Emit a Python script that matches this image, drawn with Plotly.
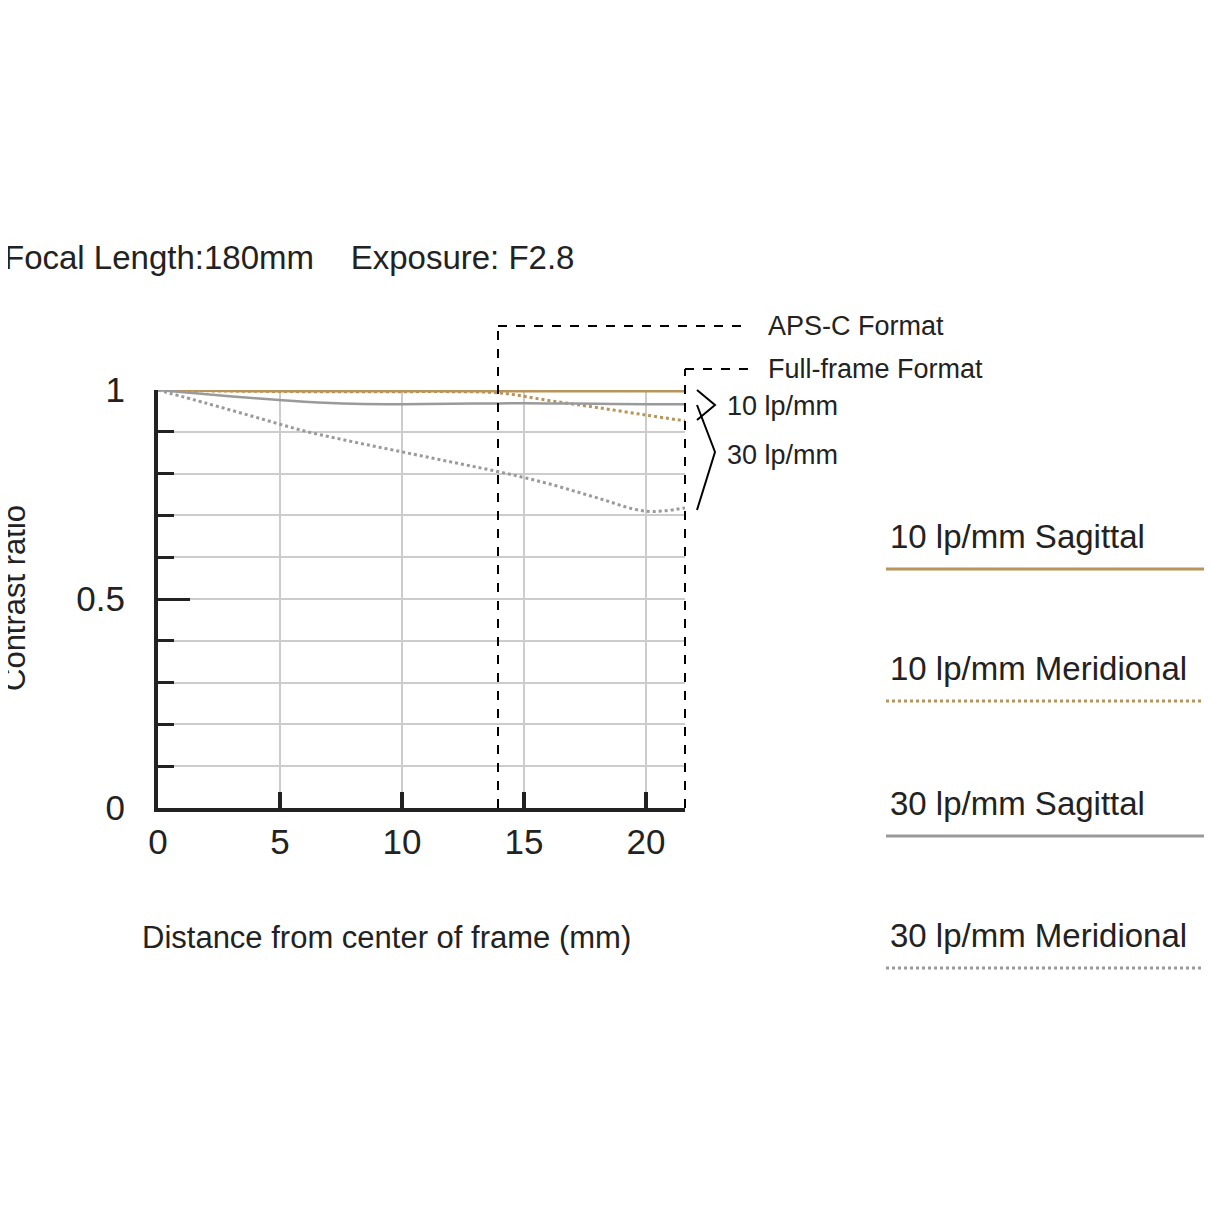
import plotly.graph_objects as go

# MTF data (distance mm -> contrast)
x_pts = [0, 2, 4, 6, 8, 10, 12, 14, 16, 18, 20, 21.6]
s10 = [1.0, 0.998, 0.997, 0.997, 0.997, 0.997, 0.997, 0.997, 0.997, 0.997, 0.997, 0.997]
m10 = [1.0, 0.998, 0.997, 0.996, 0.996, 0.996, 0.996, 0.993, 0.975, 0.958, 0.94, 0.926]
s30 = [1.0, 0.99, 0.98, 0.972, 0.967, 0.966, 0.967, 0.968, 0.968, 0.967, 0.966, 0.966]
m30 = [1.0, 0.968, 0.935, 0.902, 0.876, 0.852, 0.828, 0.804, 0.776, 0.742, 0.71, 0.718]

ORANGE = "#b8935a"
GRAY = "#9a9a9a"
FONT = "Liberation Sans"

W, H = 1212, 1212
OFF = 8  # page body margin
L, R, T, B = 158 - OFF, 685 - OFF, 390 - OFF, 808 - OFF

def px(x):
    return (x - OFF - L) / (R - L)

def py(y):
    return (B - (y - OFF)) / (B - T)

fig = go.Figure()
fig.add_trace(go.Scatter(x=x_pts, y=s10, mode="lines", line=dict(color=ORANGE, width=2.5), line_shape="spline"))
fig.add_trace(go.Scatter(x=x_pts, y=m10, mode="lines", line=dict(color=ORANGE, width=3, dash="dot"), line_shape="spline"))
fig.add_trace(go.Scatter(x=x_pts, y=s30, mode="lines", line=dict(color=GRAY, width=2.5), line_shape="spline"))
fig.add_trace(go.Scatter(x=x_pts, y=m30, mode="lines", line=dict(color=GRAY, width=3, dash="dot"), line_shape="spline"))

shapes = []
dash = dict(color="black", width=2, dash="dash")
# format boundaries
shapes.append(dict(type="line", xref="paper", yref="paper", x0=px(498), x1=px(498), y0=0, y1=py(326), line=dash))
shapes.append(dict(type="line", xref="paper", yref="paper", x0=px(498), x1=px(748), y0=py(326), y1=py(326), line=dash))
shapes.append(dict(type="line", xref="paper", yref="paper", x0=px(685), x1=px(685), y0=0, y1=py(369), line=dash))
shapes.append(dict(type="line", xref="paper", yref="paper", x0=px(685), x1=px(748), y0=py(369), y1=py(369), line=dash))
# brackets
blk = dict(color="black", width=2)
shapes.append(dict(type="path", xref="paper", yref="paper",
                   path=f"M {px(697)},{py(390)} L {px(715)},{py(405)} L {px(697)},{py(420)}", line=blk))
shapes.append(dict(type="path", xref="paper", yref="paper",
                   path=f"M {px(697)},{py(405)} L {px(715)},{py(452)} L {px(697)},{py(510)}", line=blk))
# legend lines
leg = [("10 lp/mm Sagittal", ORANGE, "solid", 536),
       ("10 lp/mm Meridional", ORANGE, "dot", 668),
       ("30 lp/mm Sagittal", GRAY, "solid", 803),
       ("30 lp/mm Meridional", GRAY, "dot", 935)]
annotations = []
for name, col, d, yy in leg:
    shapes.append(dict(type="line", xref="paper", yref="paper", x0=px(886), x1=px(1208),
                       y0=py(yy + 33), y1=py(yy + 33), line=dict(color=col, width=3, dash=d)))
    annotations.append(dict(text=name, xref="paper", yref="paper", x=px(888), y=py(yy),
                            xanchor="left", yanchor="middle", showarrow=False,
                            font=dict(size=33, color="#222", family=FONT)))

texts = [("Focal Length:180mm    Exposure: F2.8", 2, 257, 33),
         ("APS-C Format", 766, 326, 27),
         ("Full-frame Format", 766, 369, 27),
         ("10 lp/mm", 725, 406, 27),
         ("30 lp/mm", 725, 455, 27),
         ("Distance from center of frame (mm)", 140, 937, 31)]
for t, x, y, s in texts:
    annotations.append(dict(text=t, xref="paper", yref="paper", x=px(x), y=py(y),
                            xanchor="left", yanchor="middle", showarrow=False,
                            font=dict(size=s, color="#222", family=FONT)))
annotations.append(dict(text="Contrast ratio", xref="paper", yref="paper", x=px(14), y=py(598),
                        xanchor="center", yanchor="middle", showarrow=False, textangle=-90,
                        font=dict(size=31, color="#222", family=FONT)))

fig.update_layout(
    width=W, height=H, margin=dict(l=L, r=W - R, t=T, b=H - B),
    plot_bgcolor="white", paper_bgcolor="white", showlegend=False,
    shapes=shapes, annotations=annotations,
    font=dict(family=FONT, color="#222"),
)
fig.update_xaxes(range=[0, 21.6], tickvals=[0, 5, 10, 15, 20], showgrid=True, gridcolor="#cccccc",
                 gridwidth=2, showline=True, linecolor="#222", linewidth=4, ticks="inside",
                 ticklen=16, tickwidth=4, tickcolor="#222", tickfont=dict(size=35), zeroline=False)
fig.update_yaxes(range=[0, 1], tickvals=[0, 0.5, 1], ticktext=["0", "0.5", "1"], showgrid=False,
                 showline=True, linecolor="#222", linewidth=4, ticks="inside", ticklen=32,
                 tickwidth=3, tickcolor="#222", tickfont=dict(size=35), zeroline=False, ticklabelstandoff=22,
                 minor=dict(dtick=0.1, tick0=0, ticks="inside", ticklen=16, tickwidth=3, tickcolor="#222",
                            showgrid=True, gridcolor="#cccccc", gridwidth=2))

fig.write_html("out.html")
